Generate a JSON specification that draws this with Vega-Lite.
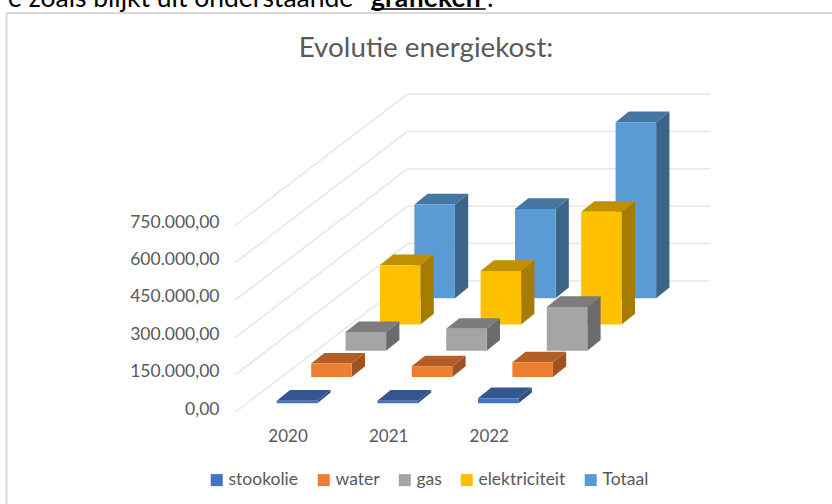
{
"$schema":"https://vega.github.io/schema/vega-lite/v6.json",
"width":832,"height":504,"padding":0,"autosize":"none","background":"white",
"config":{"view":{"stroke":null}},
"title":{"text":"Evolutie energiekost:","font":"Lato","fontSize":27.8,"fontWeight":"normal","color":"#595959","anchor":"middle","dx":10,"offset":-99,"baseline":"alphabetic"},
"datasets":{
"bars":[
{"year":2020,"series":"Totaal","value":376000},{"year":2021,"series":"Totaal","value":358000},{"year":2022,"series":"Totaal","value":706000},
{"year":2020,"series":"elektriciteit","value":238000},{"year":2021,"series":"elektriciteit","value":215000},{"year":2022,"series":"elektriciteit","value":452000},
{"year":2020,"series":"gas","value":75000},{"year":2021,"series":"gas","value":88000},{"year":2022,"series":"gas","value":176000},
{"year":2020,"series":"water","value":54000},{"year":2021,"series":"water","value":43000},{"year":2022,"series":"water","value":59000},
{"year":2020,"series":"stookolie","value":10000},{"year":2021,"series":"stookolie","value":10000},{"year":2022,"series":"stookolie","value":20000}],
"ticks":[{"tick":0},{"tick":150000},{"tick":300000},{"tick":450000},{"tick":600000},{"tick":750000}]
},
"layer":[
{"data":{"values":[{"o":1}]},"mark":{"type":"rule","color":"#D9D9D9","strokeWidth":2},
 "encoding":{"x":{"datum":2017.207,"type":"quantitative","title":null,"scale":{"domain":[2017.142,2025.412],"nice":false,"zero":false},
   "axis":{"values":[2020,2021,2022],"format":"d","offset":-79,"domain":false,"ticks":false,"grid":false,"title":null,"labelFont":"Lato","labelFontSize":17,"labelColor":"#595959","labelPadding":3,"labelBound":false,"labelFlush":false,"labelOverlap":false}},
  "x2":{"datum":2025.412},
  "y":{"datum":1600389,"type":"quantitative","title":null,"scale":{"domain":[-369012,1652532],"nice":false,"zero":false},
   "axis":{"values":[0,150000,300000,450000,600000,750000],"offset":-224,"domain":false,"ticks":false,"grid":false,"title":null,"labelFont":"Lato","labelFontSize":17.5,"labelColor":"#595959","labelPadding":5,"labelOffset":-3,"labelBound":false,"labelOverlap":false,"labelExpr":"datum.value==0?'0,00':format(datum.value/1000,'.0f')+'.000,00'"}}}},
{"data":{"values":[{"o":1}]},"mark":{"type":"rule","color":"#D9D9D9","strokeWidth":2},
 "encoding":{"x":{"datum":2017.207,"type":"quantitative"},"y":{"datum":1600389,"type":"quantitative"},"y2":{"datum":-369012}}},
{"data":{"name":"ticks"},"transform":[{"calculate":"datum.tick+525400","as":"back"}],"mark":{"type":"rule","color":"#E6E6E6","strokeWidth":1.5},
 "encoding":{"x":{"datum":2019.483,"type":"quantitative"},"x2":{"datum":2021.193},"y":{"field":"tick","type":"quantitative","title":null},"y2":{"field":"back"}}},
{"data":{"name":"ticks"},"transform":[{"calculate":"datum.tick+525400","as":"back"}],"mark":{"type":"rule","color":"#E6E6E6","strokeWidth":1.5},
 "encoding":{"x":{"datum":2021.193,"type":"quantitative"},"x2":{"datum":2024.2},"y":{"field":"back","type":"quantitative","title":null}}},
{"data":{"name":"bars"},
 "transform":[
  {"calculate":"indexof(['stookolie','water','gas','elektriciteit','Totaal'],datum.series)","as":"k"},
  {"calculate":"datum.year-0.107+datum.k*0.342","as":"x0"},
  {"calculate":"datum.x0+0.403","as":"x1"},
  {"calculate":"34900+datum.k*105300","as":"b"},
  {"calculate":"datum.b+datum.value","as":"t"},
  {"calculate":"['side','top','front']","as":"face"},
  {"flatten":["face"]},
  {"calculate":"[0,1,2,3]","as":"c"},
  {"flatten":["c"]},
  {"calculate":"datum.face=='front'?(datum.c<2?datum.x0:datum.x1):datum.face=='side'?(datum.c<2?datum.x1:datum.x1+0.132):[datum.x0,datum.x0+0.132,datum.x1,datum.x1+0.132][datum.c]","as":"px"},
  {"calculate":"datum.face=='front'?datum.b:datum.face=='side'?(datum.c<2?datum.b:datum.b+42900):(datum.c<3?datum.t:datum.t+42900)","as":"ya"},
  {"calculate":"datum.face=='front'?datum.t:datum.face=='side'?(datum.c<2?datum.t:datum.t+42900):(datum.c<1?datum.t:datum.t+42900)","as":"yb"},
  {"calculate":"datum.series+'|'+datum.face","as":"shade"},
  {"calculate":"datum.series+'|'+datum.year+'|'+datum.face","as":"id"}
 ],
 "mark":{"type":"area","interpolate":"linear"},
 "encoding":{
  "x":{"field":"px","type":"quantitative","title":null},
  "y":{"field":"ya","type":"quantitative","title":null},"y2":{"field":"yb"},
  "detail":{"field":"id"},
  "color":{"field":"shade","type":"nominal","legend":null,"scale":{
   "domain":["stookolie|front","stookolie|top","stookolie|side","water|front","water|top","water|side","gas|front","gas|top","gas|side","elektriciteit|front","elektriciteit|top","elektriciteit|side","Totaal|front","Totaal|top","Totaal|side"],
   "range":["#4472C4","#34568F","#2E4E85","#ED7D31","#B25E25","#9E5422","#A5A5A5","#7C7C7C","#6B6B6B","#FFC000","#BF9000","#A67C00","#5B9BD5","#4476A2","#3A6488"]}}
 }},
{"data":{"name":"bars"},"mark":{"type":"square","size":0,"filled":true},
 "encoding":{"x":{"datum":2020,"type":"quantitative"},"y":{"datum":0,"type":"quantitative"},
  "fill":{"field":"series","type":"nominal","scale":{"domain":["stookolie","water","gas","elektriciteit","Totaal"],"range":["#4472C4","#ED7D31","#A5A5A5","#FFC000","#5B9BD5"]},
  "legend":{"orient":"none","legendX":208,"legendY":471,"direction":"horizontal","columns":5,"title":null,"symbolType":"square","symbolSize":144,"symbolOpacity":1,"symbolStrokeWidth":0,"labelFont":"Lato","labelFontSize":17.5,"labelColor":"#595959","labelOffset":3,"columnPadding":16}}}},
{"data":{"values":[{"t":"e zoals blijkt uit onderstaande "}]},"mark":{"type":"text","align":"left","baseline":"alphabetic","font":"Lato","fontSize":26.5,"color":"#000000"},
 "encoding":{"text":{"field":"t"},"x":{"datum":2017.2215,"type":"quantitative"},"y":{"datum":1626460,"type":"quantitative"}}},
{"data":{"values":[{"t":"grafieken"}]},"mark":{"type":"text","align":"left","baseline":"alphabetic","font":"Lato","fontSize":26.5,"fontWeight":"bold","color":"#000000"},
 "encoding":{"text":{"field":"t"},"x":{"datum":2020.83,"type":"quantitative"},"y":{"datum":1626460,"type":"quantitative"}}},
{"data":{"values":[{"t":":"}]},"mark":{"type":"text","align":"left","baseline":"alphabetic","font":"Lato","fontSize":26.5,"color":"#000000"},
 "encoding":{"text":{"field":"t"},"x":{"datum":2021.983,"type":"quantitative"},"y":{"datum":1626460,"type":"quantitative"}}},
{"data":{"values":[{"o":1}]},"mark":{"type":"rule","color":"#000000","strokeWidth":1.5},
 "encoding":{"x":{"datum":2020.83,"type":"quantitative"},"x2":{"datum":2021.97},"y":{"datum":1616426,"type":"quantitative"}}}
],
"resolve":{"scale":{"color":"independent","fill":"independent"}}
}
